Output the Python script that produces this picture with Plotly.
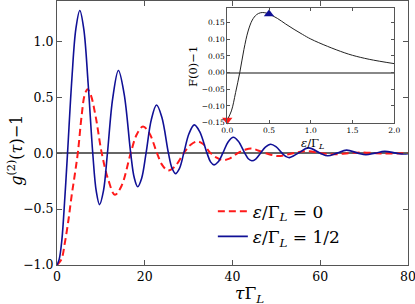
import plotly.graph_objects as go

# ---- main panel data ----
tau_half = [0, 0.5, 1.1, 1.8, 2.4, 3.4, 4.3, 5.2, 6.1, 7.1, 8.15, 8.95, 9.7, 10.6, 11.5, 12.7,
            14.0, 15.3, 16.8, 17.6, 18.4, 19.3, 20.3, 21.5, 22.7, 23.9, 25.4, 26.2, 27.0,
            27.9, 28.9, 30.1, 31.3, 32.5, 34.2, 35.0, 35.8, 36.7, 37.8, 39.0, 40.2, 41.3,
            42.8, 43.6, 44.4, 45.3, 46.4, 47.5, 48.7, 49.9, 51.3, 52.2, 53.0, 55.0, 57.3,
            60.0, 61.7, 63.8, 66.0, 68.6, 70.4, 72.5, 74.7, 77.3, 79.0, 80.0]
g2_half = [-1.0, -0.95, -0.78, -0.39, 0.0, 0.67, 1.11, 1.275, 1.11, 0.62, 0.0, -0.34, -0.46,
           -0.335, 0.0, 0.49, 0.739, 0.53, 0.0, -0.218, -0.30, -0.224, 0.0, 0.30, 0.43, 0.32,
           0.0, -0.132, -0.183, -0.138, 0.0, 0.175, 0.253, 0.194, 0.0, -0.078, -0.105, -0.08,
           0.0, 0.10, 0.142, 0.108, 0.0, -0.05, -0.068, -0.053, 0.0, 0.053, 0.08, 0.058, 0.0,
           -0.03, -0.04, 0.0, 0.047, 0.0, -0.024, 0.0, 0.027, 0.0, -0.014, 0.0, 0.016, 0.0,
           -0.008, -0.005]

tau_zero = [0, 1.0, 1.8, 2.6, 3.3, 4.1, 4.8, 5.6, 6.3, 6.97, 7.7, 8.8, 10.2, 11.7, 13.2,
            14.7, 16.8, 18.2, 19.6, 21.0, 22.8, 24.0, 25.3, 26.8, 28.9, 30.4, 31.9, 33.3,
            35.0, 36.5, 37.8, 39.3, 41.2, 42.8, 44.3, 47.5, 50.5, 53.8, 56.9, 60.1, 63.1,
            66.4, 69.4, 72.7, 75.7, 79.0, 80.0]
g2_zero = [-1.0, -0.95, -0.80, -0.60, -0.39, -0.18, 0.02, 0.33, 0.52, 0.572, 0.52, 0.33,
           0.0, -0.24, -0.373, -0.294, 0.0, 0.169, 0.238, 0.182, 0.0, -0.107, -0.155, -0.123,
           0.0, 0.072, 0.104, 0.082, 0.0, -0.043, -0.062, -0.049, 0.0, 0.029, 0.042, 0.0,
           -0.026, 0.0, 0.017, 0.0, -0.011, 0.0, 0.007, 0.0, -0.004, 0.0, 0.001]

# ---- inset data ----
eps = [0.0, 0.05, 0.1, 0.15, 0.2, 0.25, 0.3, 0.35, 0.4, 0.45, 0.5, 0.6, 0.7, 0.8, 0.9,
       1.0, 1.2, 1.4, 1.5, 1.7, 2.0]
F0 = [-0.142, -0.115, -0.06, 0.0, 0.07, 0.125, 0.158, 0.174, 0.18, 0.18, 0.176, 0.163,
      0.146, 0.13, 0.115, 0.101, 0.079, 0.06, 0.052, 0.04, 0.027]
eps_marks = [eps[0], eps[10]]
F0_marks = [F0[0], F0[10]]

main_x_ticks = [0, 20, 40, 60, 80]
main_y_ticks = [-1.0, -0.5, 0.0, 0.5, 1.0]
inset_x_ticks = [0.0, 0.5, 1.0, 1.5, 2.0]
inset_y_ticks = [-0.15, -0.10, -0.05, 0.0, 0.05, 0.10, 0.15]

RED = "#ff1a1a"
BLUE = "#101096"
FONT = "DejaVu Serif"

fig = go.Figure()
fig.add_trace(go.Scatter(x=tau_zero, y=g2_zero, mode="lines",
                         line=dict(color=RED, width=2, dash="7px,4px", shape="spline"),
                         name="<i>ε</i>/Γ<sub><i>L</i></sub> = 0"))
fig.add_trace(go.Scatter(x=tau_half, y=g2_half, mode="lines",
                         line=dict(color=BLUE, width=1.6, shape="spline"),
                         name="<i>ε</i>/Γ<sub><i>L</i></sub> = 1/2"))

fig.add_trace(go.Scatter(x=eps, y=F0, mode="lines", xaxis="x2", yaxis="y2",
                         line=dict(color="#222222", width=1, shape="spline"),
                         showlegend=False))
fig.add_trace(go.Scatter(x=[eps_marks[0]], y=[F0_marks[0]], mode="markers", xaxis="x2", yaxis="y2",
                         marker=dict(symbol="triangle-down", size=9, color=RED),
                         cliponaxis=False, showlegend=False))
fig.add_trace(go.Scatter(x=[eps_marks[1]], y=[F0_marks[1]], mode="markers", xaxis="x2", yaxis="y2",
                         marker=dict(symbol="triangle-up", size=9, color=BLUE),
                         cliponaxis=False, showlegend=False))

axis_common = dict(showline=True, linecolor="#555555", linewidth=1, mirror="ticks",
                   ticks="inside", tickcolor="#555555", showgrid=False, automargin=False)

fig.update_layout(
    width=415, height=304,
    margin=dict(l=57, r=7, t=1, b=39, autoexpand=False),
    paper_bgcolor="white", plot_bgcolor="rgba(0,0,0,0)",
    font=dict(family=FONT, color="black"),
    xaxis=dict(range=[0, 80.01], tickvals=main_x_ticks, ticklen=5, tickwidth=1,
               ticklabeloverflow="allow",
               tickfont=dict(size=12.5, family=FONT), zeroline=False, **axis_common),
    yaxis=dict(range=[-1.0, 1.36], tickvals=main_y_ticks, tickformat=".1f", ticklen=5,
               tickfont=dict(size=12.5, family=FONT), zeroline=True, zerolinecolor="#666666",
               zerolinewidth=1.5, **axis_common),
    xaxis2=dict(domain=[0.485, 0.961], anchor="y2", range=[0, 2], tickvals=inset_x_ticks,
                tickformat=".1f", ticklen=3, tickfont=dict(size=7.5, family=FONT),
                zeroline=False, **axis_common),
    yaxis2=dict(domain=[0.537, 0.972], anchor="x2", range=[-0.152, 0.193],
                tickvals=inset_y_ticks, tickformat=".2f", ticklen=3,
                tickfont=dict(size=7.5, family=FONT), zeroline=True,
                zerolinecolor="#888888", zerolinewidth=2, **axis_common),
    legend=dict(x=0.444, y=0.27, xanchor="left", yanchor="top", bgcolor="rgba(0,0,0,0)",
                font=dict(size=17, family=FONT), tracegroupgap=0),
    showlegend=True,
)

fig.add_annotation(text="<i>g</i><sup>(2)</sup>(<i>τ</i>)−1", xref="paper", yref="paper",
                   x=-0.117, y=0.436, xanchor="center", yanchor="middle", textangle=-90,
                   showarrow=False, font=dict(size=16, family=FONT))
fig.add_annotation(text="<i>τ</i>Γ<sub><i>L</i></sub>", xref="paper", yref="paper",
                   x=0.548, y=-0.11, xanchor="center", yanchor="middle",
                   showarrow=False, font=dict(size=17, family=FONT))
fig.add_annotation(text="F(0)−1", xref="paper", yref="paper", x=0.3875, y=0.75,
                   xanchor="center", yanchor="middle", textangle=-90, showarrow=False,
                   font=dict(size=11.5, family=FONT))
fig.add_annotation(text="<i>ε</i>/Γ<sub><i>L</i></sub>", xref="paper", yref="paper",
                   x=0.729, y=0.462, xanchor="center", yanchor="middle", showarrow=False,
                   font=dict(size=11.5, family=FONT))

fig.write_html("out.html", config={"displayModeBar": False},
               post_script="document.body.style.margin='0px';")
